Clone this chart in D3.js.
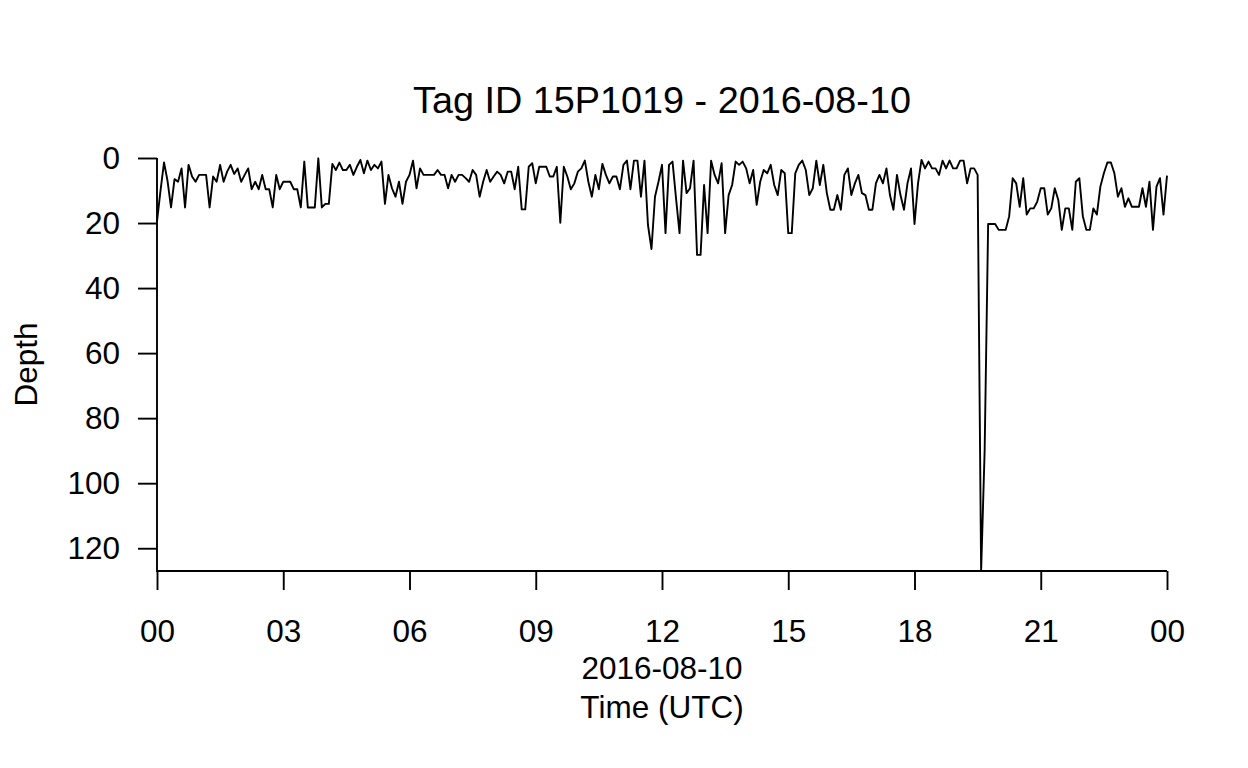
<!DOCTYPE html>
<html>
<head>
<meta charset="utf-8">
<script src="https://cdn.jsdelivr.net/npm/d3@7"></script>
<style>
  html, body { margin: 0; padding: 0; background: #ffffff; }
  svg { display: block; }
  text { font-family: "Liberation Sans", Arial, Helvetica, sans-serif; fill: #000; }
</style>
</head>
<body>
<svg id="chart" width="1248" height="768"></svg>
<script>
// ---- data ----
const title = "Tag ID 15P1019 - 2016-08-10";
const xLabelLines = ["2016-08-10", "Time (UTC)"];
const yLabel = "Depth";
const startTime = "2016-08-10T00:00:00Z";
const endTime = "2016-08-11T00:00:00Z";
const intervalMinutes = 5;
const depths = [
  19.5, 10, 1.4, 7, 15.2, 6.5, 7.3, 3.2, 15.2, 2.1, 5.7, 7.3, 5.2, 5.2, 5.2, 15.2, 5.7, 7.3, 2.1, 7.3,
  4.2, 2.1, 4.9, 3.2, 7.3, 5.2, 3.2, 9.6, 7.3, 9.6, 5.2, 9.6, 9.6, 15.2, 5.2, 9.6, 7.3, 7.3, 7.3, 9.6,
  9.6, 15.2, 1.1, 15.2, 15.2, 15.2, 0.1, 15.2, 14.1, 14.1, 1.8, 3.7, 1.4, 3.7, 3.7, 2.1, 5.2, 2.7, 0.6, 4.7,
  0.8, 3.7, 2.1, 3.2, 1.1, 14.1, 5.2, 9.3, 11.9, 7.3, 14.1, 7.3, 5.2, 0.8, 9.3, 3.2, 5.2, 5.2, 5.2, 5.2,
  3.7, 5.2, 5.2, 9.3, 5.2, 7.3, 5.2, 5.2, 6.2, 7.3, 3.7, 5.2, 11.9, 7.3, 3.7, 7.3, 5.7, 4.2, 5.2, 7.8,
  4.2, 4.2, 9.6, 2.7, 15.8, 15.8, 2.7, 1.6, 7.8, 2.7, 2.7, 2.7, 5.7, 5.7, 2.7, 19.9, 2.7, 5.7, 9.6, 7.8,
  4.2, 3.2, 0.8, 7.3, 11.9, 5.2, 9.6, 1.8, 5.2, 7.8, 5.7, 5.7, 9.6, 2.1, 0.8, 9.6, 0.8, 0.8, 11.9, 0.8,
  20.6, 28.0, 11.9, 7.3, 2.1, 23.1, 2.1, 1.1, 12.4, 23.1, 0.8, 10.8, 9.3, 0.8, 29.8, 29.8, 8.3, 23.1, 0.8, 5.2,
  7.8, 1.6, 23.1, 11.4, 8.3, 1.1, 2.1, 1.1, 3.2, 7.8, 3.7, 14.4, 7.3, 3.7, 4.7, 2.1, 8.3, 11.4, 3.7, 4.7,
  23.1, 23.1, 4.7, 2.1, 0.8, 3.7, 11.4, 9.3, 0.8, 8.3, 2.1, 10.8, 15.9, 15.9, 11.4, 15.9, 5.2, 3.2, 11.4, 7.8,
  5.2, 10.8, 11.4, 15.9, 15.9, 7.8, 5.2, 7.8, 3.2, 11.4, 15.9, 5.2, 11.4, 15.9, 7.8, 3.2, 20.3, 7.8, 0.6, 3.2,
  1.1, 3.2, 3.2, 5.2, 0.8, 3.2, 0.8, 3.2, 3.2, 0.8, 0.8, 7.8, 3.2, 3.2, 5.2, 127, 90, 20.3, 20.3, 20.3,
  22.1, 22.1, 22.1, 17.9, 6.2, 7.8, 15, 6.2, 17.4, 15.5, 15.5, 13.4, 9.3, 9.3, 17.4, 15.5, 9.3, 12.9, 22.1, 15.5,
  15.5, 22.1, 7.3, 6.2, 17.9, 22.1, 22.1, 15.5, 17.4, 8.8, 4.7, 1.4, 1.4, 4.7, 11.9, 9.3, 15, 12.4, 15, 15,
  15, 9.3, 15, 7.3, 22.1, 8.8, 6.2, 17.4, 5.4
];
const yTickValues = [0, 20, 40, 60, 80, 100, 120];
const xTickLabels = ["00", "03", "06", "09", "12", "15", "18", "21", "00"];

// ---- build ----
const t0 = new Date(startTime);
const series = depths.map((d, i) => ({ t: new Date(t0.getTime() + i * intervalMinutes * 60000), d }));

const svg = d3.select("#chart");
const margin = { left: 157, right: 81, top: 158, bottom: 197 };
const W = 1248, H = 768;
const x0 = margin.left, x1 = W - margin.right;
const y0 = margin.top, y1 = H - margin.bottom;

const x = d3.scaleUtc().domain([new Date(startTime), new Date(endTime)]).range([x0, x1]);
const y = d3.scaleLinear().domain([0, d3.max(depths)]).range([y0, y1]);

const fontSize = 31.5;
const sw = 1.9;

// data line
svg.append("path")
  .datum(series)
  .attr("fill", "none")
  .attr("stroke", "#000")
  .attr("stroke-width", sw)
  .attr("stroke-linejoin", "round")
  .attr("d", d3.line().x(p => x(p.t)).y(p => y(p.d)));

// L-shaped box
svg.append("path")
  .attr("d", `M${x0},${y0}V${y1}H${x1}`)
  .attr("fill", "none").attr("stroke", "#000").attr("stroke-width", sw);

// x axis
const xTicks = d3.range(xTickLabels.length).map(k => new Date(t0.getTime() + k * 3 * 3600000));
const xAxis = d3.axisBottom(x)
  .tickValues(xTicks)
  .tickFormat((d, i) => xTickLabels[i])
  .tickSize(19).tickPadding(30);
const gx = svg.append("g").attr("transform", `translate(0,${y1})`).call(xAxis);
gx.select(".domain").remove();
gx.selectAll("line").attr("stroke", "#000").attr("stroke-width", sw);
gx.selectAll("text").attr("font-size", fontSize).attr("font-family", "Liberation Sans, Arial, sans-serif").attr("fill", "#000");

// y axis
const yAxis = d3.axisLeft(y).tickValues(yTickValues).tickSize(19).tickPadding(18);
const gy = svg.append("g").attr("transform", `translate(${x0},0)`).call(yAxis);
gy.select(".domain").remove();
gy.selectAll("line").attr("stroke", "#000").attr("stroke-width", sw);
gy.selectAll("text").attr("font-size", fontSize).attr("font-family", "Liberation Sans, Arial, sans-serif").attr("fill", "#000");

// title
svg.append("text")
  .attr("x", (x0 + x1) / 2).attr("y", 113)
  .attr("text-anchor", "middle")
  .attr("font-size", 37.8)
  .text(title);

// x label
xLabelLines.forEach((s, i) => {
  svg.append("text")
    .attr("x", (x0 + x1) / 2).attr("y", 679 + i * 39)
    .attr("text-anchor", "middle")
    .attr("font-size", fontSize)
    .text(s);
});

// y label
svg.append("text")
  .attr("transform", `translate(37,${(y0 + y1) / 2}) rotate(-90)`)
  .attr("text-anchor", "middle")
  .attr("font-size", fontSize)
  .text(yLabel);
</script>
</body>
</html>
